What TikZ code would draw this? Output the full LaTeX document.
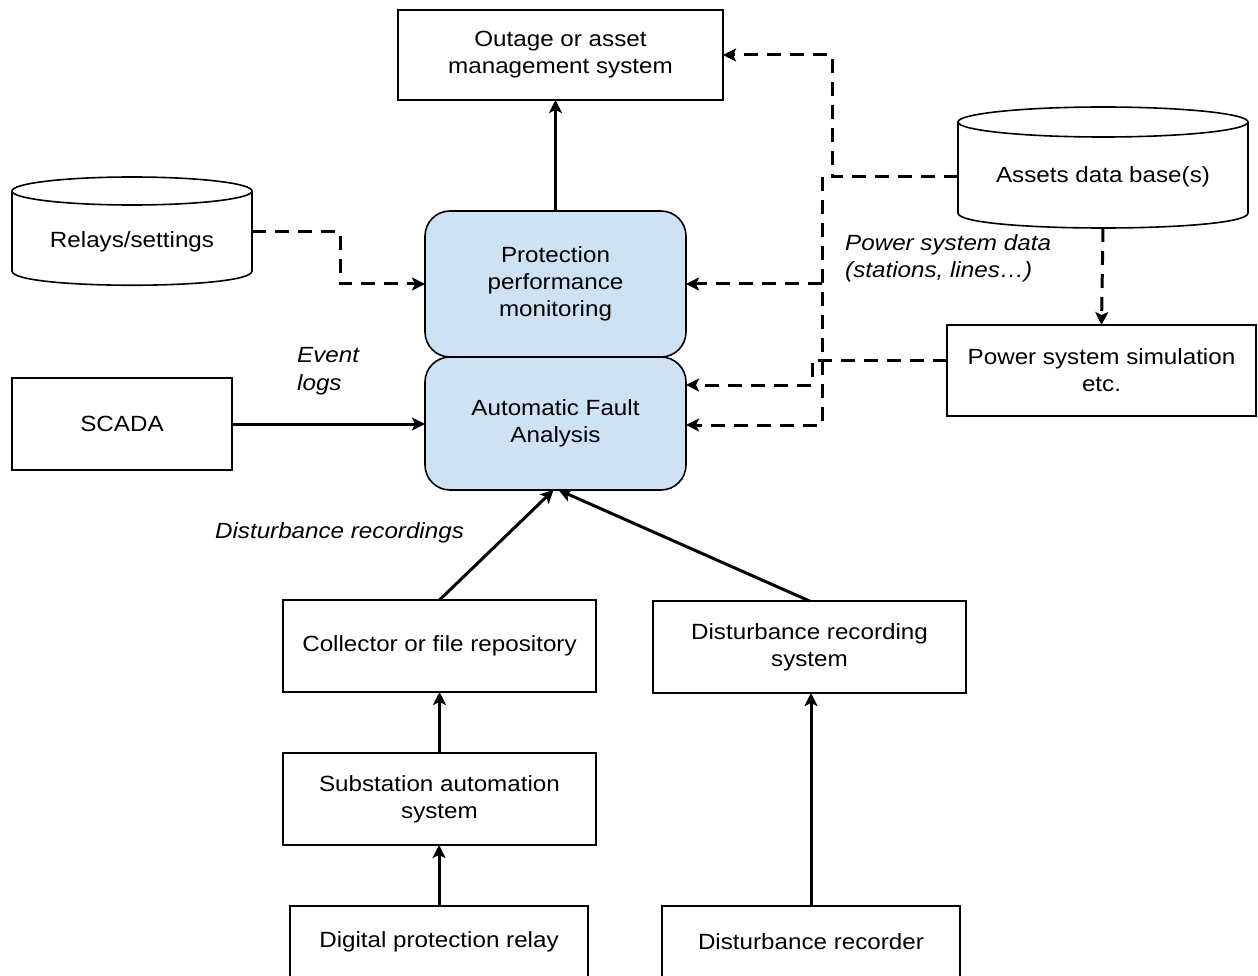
\documentclass[tikz,border=0pt]{standalone}
\usepackage{fontspec}
\setmainfont{Liberation Sans}[FakeStretch=1.1]
\usepackage{xcolor}
\usetikzlibrary{arrows.meta,positioning}
\definecolor{cInk}{HTML}{000000}
\definecolor{cFill}{HTML}{CFE2F3}
\tikzset{
  box/.style={draw=cInk,line width=1.6pt,align=center,inner sep=0pt,outer sep=0pt,text=cInk},
  rbox/.style={box,fill=cFill,rounded corners=25pt,minimum width=261pt},
  outl/.style={draw=cInk,line width=1.6pt,fill=white},
  txt/.style={align=center,inner sep=0pt,outer sep=0pt,text=cInk},
  arr/.style={-{Stealth[length=13pt,width=13pt,inset=3pt]},line width=3pt,color=cInk},
  darr/.style={arr,dash pattern=on 14pt off 9pt},
  lbl/.style={font=\fontsize{22}{27.5}\selectfont\itshape,inner sep=0pt,text=cInk},
}

\begin{document}
\begin{tikzpicture}[x=1pt,y=-1pt,font=\fontsize{22}{27}\selectfont]
  \useasboundingbox (0,0) rectangle (1258,976);
  % data bases
  \draw[outl] (12,191) -- (12,271) .. controls (12,290) and (252,290) .. (252,271) -- (252,191);
  \draw[outl] (132,191) ellipse [x radius=120pt, y radius=14pt];
  \draw[outl] (958,122) -- (958,213) .. controls (958,233) and (1248,233) .. (1248,213) -- (1248,122);
  \draw[outl] (1103,122) ellipse [x radius=145pt, y radius=15pt];
  \node[txt,minimum width=240pt,minimum height=80pt] (relays) at (132,242) {Relays/settings};
  \node[txt,minimum width=290pt,minimum height=102pt] (assets) at (1103,177) {Assets data base(s)};

  % boxes
  \node[box,minimum width=325pt,minimum height=90pt] (outage) at (560.5,55) {Outage or asset\\management system};
  \node[rbox,minimum height=146pt] (ppm) at (555.5,284) {Protection\\performance\\monitoring};
  \node[rbox,minimum height=133pt] (afa) at (555.5,423.5) {Automatic Fault\\Analysis};
  \node[box,minimum width=220pt,minimum height=92pt] (scada) at (122,424) {SCADA};
  \node[box,minimum width=309pt,minimum height=91pt] (sim) at (1101.5,370.5) {Power system simulation\\etc.};
  \node[box,minimum width=313pt,minimum height=92pt] (collector) at (439.5,646) {Collector or file repository};
  \node[box,minimum width=313pt,minimum height=92pt] (drs) at (809.5,647) {Disturbance recording\\system};
  \node[box,minimum width=313pt,minimum height=92pt] (substation) at (439.5,799) {Substation automation\\system};
  \node[box,minimum width=298pt,minimum height=72pt] (relay) at (439,942) {Digital protection relay};
  \node[box,minimum width=298pt,minimum height=72pt] (recorder) at (811,942) {Disturbance recorder};

  % solid links
  \draw[arr] (ppm.north) -- (ppm.north |- outage.south);
  \draw[arr] (scada.east) -- (scada.east -| afa.west);
  \draw[arr] (collector.north) -- ([xshift=-2pt]afa.south);
  \draw[arr] (drs.north) -- ([xshift=3pt]afa.south);
  \draw[arr] (substation.north) -- (collector.south);
  \draw[arr] (relay.north) -- (relay.north |- substation.south);
  \draw[arr] (recorder.north) -- (recorder.north |- drs.south);

  % dashed links
  \coordinate (jOut) at (832,177);
  \coordinate (jMon) at (822,177);
  \coordinate (jFlt) at (822,425);
  \coordinate (jSim) at (812,360);
  \coordinate (jSimB) at (812,385);
  \coordinate (jRel) at (340,232);
  \draw[darr] (assets.west) -- (jOut) |- (outage.east);
  \draw[darr] (jMon) -- (jFlt) -- (jFlt -| afa.east);
  \draw[darr] (jMon |- ppm.east) -- (ppm.east);
  \draw[darr] ([yshift=10.5pt]sim.west) -- (jSim) -- (jSimB) -- (jSimB -| afa.east);
  \draw[darr] (assets.south) -- (sim.north);
  \draw[darr] ([yshift=10pt]relays.east) -- (jRel) |- (ppm.west);

  % labels
  \node[lbl,anchor=west,align=left] (evlog) at (297,371) {Event\\logs};
  \node[lbl] (drlab) at (339.5,533) {Disturbance recordings};
  \node[lbl,anchor=west,align=left] (psdata) at (845,258.5) {Power system data\\(stations, lines…)};
\end{tikzpicture}
\end{document}
